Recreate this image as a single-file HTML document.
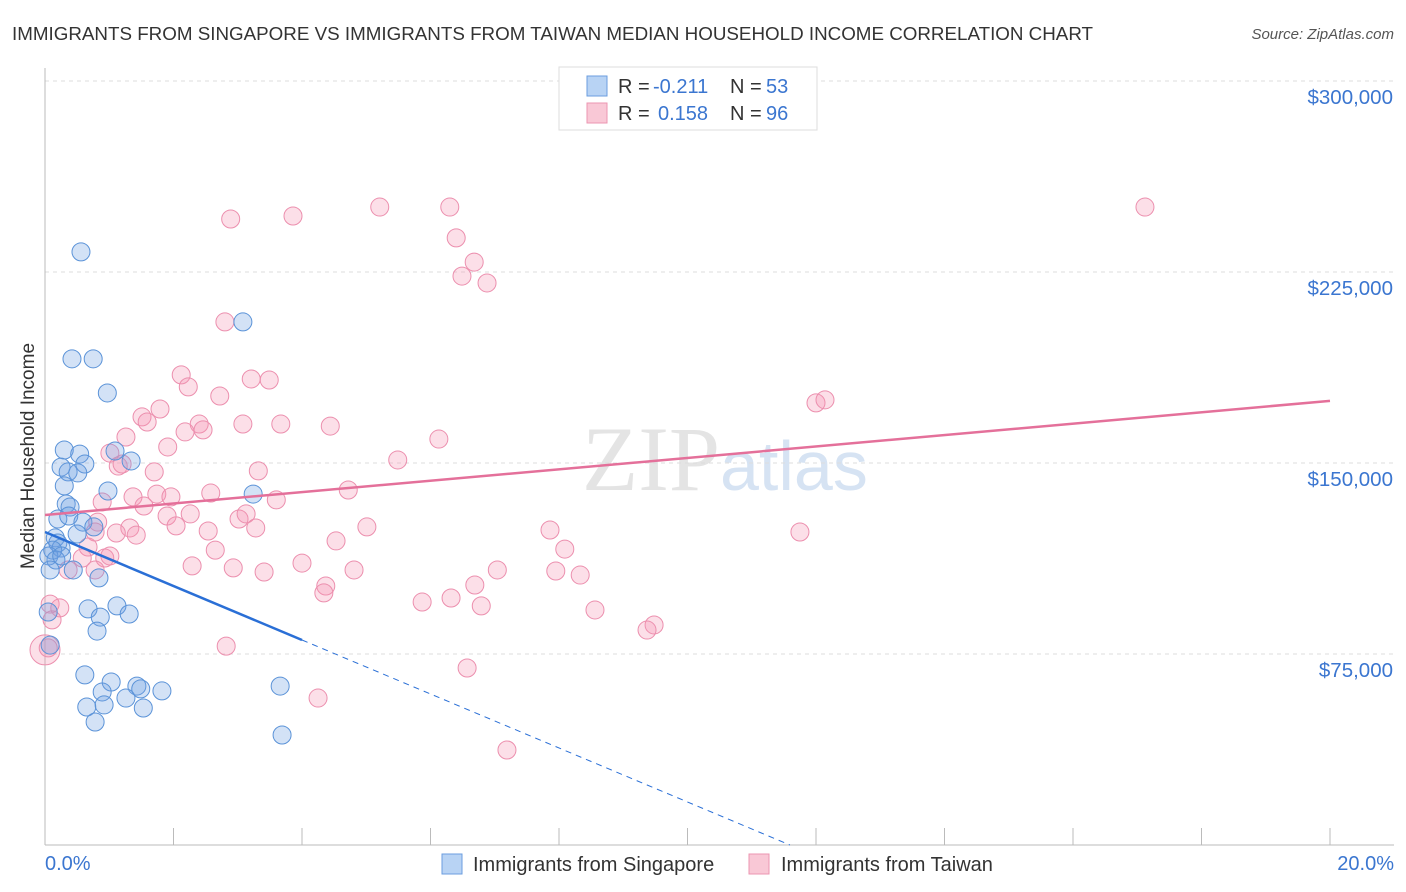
<!DOCTYPE html>
<html><head><meta charset="utf-8"><style>
body{margin:0;background:#fff;font-family:"Liberation Sans",sans-serif;}
#wrap{position:relative;width:1406px;height:892px;overflow:hidden}
</style></head><body>
<div id="wrap">
<svg id="chart" width="1406" height="892" xmlns="http://www.w3.org/2000/svg">
<text x="12" y="40" font-size="18.8" fill="#333">IMMIGRANTS FROM SINGAPORE VS IMMIGRANTS FROM TAIWAN MEDIAN HOUSEHOLD INCOME CORRELATION CHART</text>
<text x="1394" y="39" font-size="15" fill="#555" font-style="italic" text-anchor="end">Source: ZipAtlas.com</text>
<text x="720" y="490" font-size="92" fill="#e4e4e4" text-anchor="end" font-family="Liberation Serif,serif">ZIP</text>
<text x="720" y="490" font-size="70" fill="#d6e3f3">atlas</text>
<text transform="translate(34,456) rotate(-90)" font-size="19" fill="#333" text-anchor="middle">Median Household Income</text>
<g id="grid"></g><g id="pts"></g><g id="lines"></g>
<text x="45" y="870" font-size="20" fill="#3b76d0">0.0%</text>
<text x="1394" y="870" font-size="20" fill="#3b76d0" text-anchor="end">20.0%</text>
<g>
<rect x="442" y="854" width="20" height="20" fill="#b8d3f4" stroke="#6b9edf"/>
<text x="473" y="871" font-size="20" fill="#333">Immigrants from Singapore</text>
<rect x="749" y="854" width="20" height="20" fill="#f9c8d6" stroke="#ec96b1"/>
<text x="781" y="871" font-size="20" fill="#333">Immigrants from Taiwan</text>
</g>
<g>
<rect x="559" y="67" width="258" height="63" fill="#fff" stroke="#ddd"/>
<rect x="587" y="76" width="20" height="20" fill="#b8d3f4" stroke="#6b9edf"/>
<text x="618" y="93" font-size="20" fill="#333">R =</text>
<text x="653" y="93" font-size="20" fill="#3b76d0">-0.211</text>
<text x="730" y="93" font-size="20" fill="#333">N =</text>
<text x="766" y="93" font-size="20" fill="#3b76d0">53</text>
<rect x="587" y="103" width="20" height="20" fill="#f9c8d6" stroke="#ec96b1"/>
<text x="618" y="120" font-size="20" fill="#333">R =</text>
<text x="658" y="120" font-size="20" fill="#3b76d0">0.158</text>
<text x="730" y="120" font-size="20" fill="#333">N =</text>
<text x="766" y="120" font-size="20" fill="#3b76d0">96</text>
</g>
</svg></div>
<script>
const yTicks=[75000,150000,225000,300000];
const yTickLabels=["$75,000","$150,000","$225,000","$300,000"];
const sgX=[0.56,0.42,0.75,0.97,3.08,0.30,1.09,1.34,0.54,0.25,0.62,0.36,0.51,0.30,0.98,3.24,0.33,0.39,0.20,0.37,0.59,0.76,0.50,0.16,0.20,0.25,0.12,0.06,0.17,0.08,0.44,0.84,0.67,1.12,0.86,1.31,0.81,0.62,1.03,1.43,1.49,1.82,3.66,0.89,1.26,0.92,0.65,1.53,0.78,3.69,0.08,0.05,0.26];
const sgY=[232.9,190.9,190.9,177.5,205.4,155.1,154.7,150.8,153.5,148.4,149.6,146.5,146.1,141.0,139.0,137.8,133.9,132.7,128.0,129.2,126.8,124.9,122.1,120.6,118.6,116.6,115.8,113.5,111.9,108.0,108.0,104.9,92.7,93.9,89.5,90.7,84.0,66.8,64.0,62.4,61.3,60.5,62.4,60.1,57.7,55.0,54.2,53.8,48.3,43.2,78.5,91.5,113.5];
const twX=[2.89,3.86,5.21,6.30,17.12,6.40,6.49,6.68,6.88,2.80,2.12,3.21,3.49,2.23,2.72,1.79,1.51,1.59,2.40,3.08,3.67,4.44,2.46,2.18,1.26,6.13,1.91,1.01,1.14,5.49,1.20,1.70,3.32,2.58,4.72,1.74,1.37,1.96,3.60,0.89,1.54,2.26,1.90,3.02,3.13,0.82,1.32,2.04,2.54,3.28,5.01,7.86,11.75,1.42,0.78,4.53,0.67,2.65,8.09,0.58,2.29,2.93,0.93,4.00,4.37,4.81,7.04,7.95,8.33,3.41,0.36,0.78,4.34,5.87,6.32,6.79,8.56,2.82,9.48,9.37,6.57,4.25,7.19,6.69,12.00,12.14,0.08,0.23,0.11,0.00,0.05,1.01,1.11];
const twY=[245.8,247.0,250.5,250.5,250.5,238.4,223.4,228.9,220.7,205.4,184.6,183.0,182.6,179.9,176.3,171.2,168.1,166.1,165.3,165.3,165.3,164.5,163.0,162.2,160.2,159.4,156.3,153.9,148.8,151.2,149.6,146.5,146.9,138.2,139.4,137.8,136.7,136.7,135.5,134.7,133.1,130.0,129.2,128.0,130.0,126.8,124.5,125.3,123.3,124.5,124.9,123.7,122.9,121.7,122.9,119.4,117.0,115.8,116.2,112.7,109.6,108.8,112.7,110.7,101.7,108.0,108.0,107.6,106.0,107.2,108.0,108.0,99.0,95.4,97.0,93.9,92.3,78.1,86.4,84.4,69.5,57.7,37.3,102.1,173.6,174.8,94.6,93.1,88.4,76.6,77.4,113.5,122.5];
const sgTrend=[122.9,80.5];const twTrend=[129.6,174.4];
const X=p=>45+p*64.25, Y=k=>845-k*1000/75000*191;
const NS="http://www.w3.org/2000/svg";
function mk(t,a,parent){const e=document.createElementNS(NS,t);for(const k in a)e.setAttribute(k,a[k]);parent.appendChild(e);return e;}
const grid=document.getElementById('grid');
yTicks.forEach((v,i)=>{const y=Y(v/1000);
const l=mk('line',{x1:45,x2:1394,y1:y,y2:y,stroke:'#ddd','stroke-dasharray':'4,4'},grid);


const t=mk('text',{x:1393,y:y+23,'font-size':20.5,fill:'#3b76d0','text-anchor':'end'},grid);t.textContent=yTickLabels[i];

});
const ax=mk('line',{x1:45,x2:45,y1:68,y2:845,stroke:'#bbb'},grid);


const bx=mk('line',{x1:45,x2:1394,y1:845,y2:845,stroke:'#bbb'},grid);


for(let i=0;i<=10;i++){const x=X(i*2);const t=mk('line',{x1:x,x2:x,y1:828,y2:845,stroke:'#bbb'},grid);

}
const pts=document.getElementById('pts');
twX.forEach((v,i)=>{const c=mk('circle',{cx:X(v),cy:Y(twY[i]),r:i==89?15:9,fill:'rgba(244,150,180,0.3)',stroke:'#ec8fae','stroke-width':1},pts);

});
sgX.forEach((v,i)=>{const c=mk('circle',{cx:X(v),cy:Y(sgY[i]),r:9,fill:'rgba(110,160,225,0.3)',stroke:'#5b93d8','stroke-width':1},pts);

});
const ln=document.getElementById('lines');
const t1=mk('line',{x1:X(0),y1:Y(twTrend[0]),x2:X(20),y2:Y(twTrend[1]),stroke:'#e4709a','stroke-width':2.5},ln);


const slope=(sgTrend[1]-sgTrend[0])/4, xz=-sgTrend[0]/slope;
const t2=mk('line',{x1:X(0),y1:Y(sgTrend[0]),x2:X(4),y2:Y(sgTrend[1]),stroke:'#2a6fd6','stroke-width':2.5},ln);


const t3=mk('line',{x1:X(4),y1:Y(sgTrend[1]),x2:X(xz),y2:Y(0),stroke:'#2a6fd6','stroke-width':1,'stroke-dasharray':'6,5'},ln);


</script>
</body></html>
